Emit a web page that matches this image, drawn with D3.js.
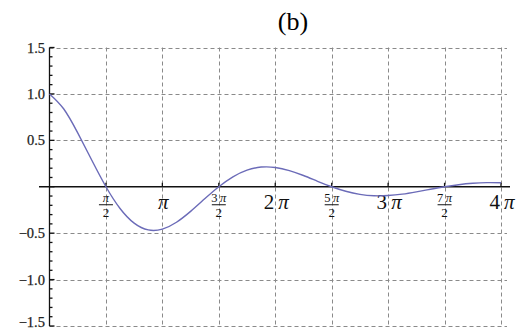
<!DOCTYPE html>
<html><head><meta charset="utf-8">
<script src="https://cdn.jsdelivr.net/npm/d3@7"></script>
<style>html,body{margin:0;padding:0;background:#fff;}svg{display:block;}</style>
</head><body>
<svg id="c" width="517" height="331"></svg>
<script>
// curve samples, x in units of π/8 (k = 0..32)
const sampleK = d3.range(0, 33);
const sampleY = [1.00, 0.84, 0.58, 0.285, 0.00, -0.234, -0.392, -0.465, -0.456, -0.382, -0.265, -0.13,
  0.00, 0.107, 0.179, 0.212, 0.208, 0.174, 0.121, 0.059, 0.00, -0.049, -0.082, -0.097, -0.095,
  -0.080, -0.055, -0.027, 0.00, 0.022, 0.037, 0.044, 0.043];
// x ticks in units of π/2
const xTickHalfPi = [1, 2, 3, 4, 5, 6, 7, 8];
const xTickCoef = ["", "", "3", "2", "5", "3", "7", "4"];
const xTickDen = ["2", "", "2", "", "2", "", "2", ""];
const yTicks = [-1.5, -1.0, -0.5, 0.5, 1.0, 1.5];
const yTickLabels = ["−1.5", "−1.0", "−0.5", "0.5", "1.0", "1.5"];
const title = "(b)";

const svg = d3.select("#c");
const x = d3.scaleLinear().domain([0, 4 * Math.PI]).range([49.5, 501]);
const y = d3.scaleLinear().domain([-1.5, 1.5]).range([326, 47.5]);
const serif = "'Liberation Serif','Times New Roman',serif";

// grid
const grid = svg.append("g").attr("stroke", "#8a8a8a").attr("stroke-width", 1)
  .attr("stroke-dasharray", "4,3").attr("fill", "none");
grid.selectAll("line.v").data(xTickHalfPi).join("line")
  .attr("x1", d => Math.round(x(d * Math.PI / 2)) + 0.5).attr("x2", d => Math.round(x(d * Math.PI / 2)) + 0.5)
  .attr("y1", y(1.5)).attr("y2", y(-1.5));
grid.selectAll("line.h").data(yTicks).join("line")
  .attr("x1", x(0)).attr("x2", 507)
  .attr("y1", d => Math.round(y(d)) + 0.5).attr("y2", d => Math.round(y(d)) + 0.5);

// y axis
const ax = svg.append("g").attr("stroke", "#111").attr("stroke-width", 1.3);
ax.append("line").attr("x1", x(0)).attr("x2", x(0)).attr("y1", y(1.5)).attr("y2", y(-1.5));
const minor = d3.range(-15, 16).map(i => i / 10);
ax.selectAll("line.t").data(minor).join("line")
  .attr("x1", x(0)).attr("x2", d => x(0) + (Math.abs(Math.round(d * 10)) % 5 === 0 ? 5 : 3))
  .attr("y1", d => y(d)).attr("y2", d => y(d));
svg.append("g").selectAll("text").data(yTicks).join("text")
  .attr("x", 45).attr("y", d => Math.min(y(d) + 5, 327)).attr("text-anchor", "end")
  .attr("font-family", serif).attr("font-size", 14.5).attr("fill", "#222")
  .attr("stroke", "#222").attr("stroke-width", 0.25)
  .text((d, i) => yTickLabels[i]);

// x axis
ax.append("line").attr("x1", 39).attr("x2", 510).attr("y1", y(0)).attr("y2", y(0));
ax.selectAll("line.xt").data(xTickHalfPi).join("line")
  .attr("x1", d => x(d * Math.PI / 2)).attr("x2", d => x(d * Math.PI / 2))
  .attr("y1", y(0)).attr("y2", y(0) - 4);

const xl = svg.append("g").attr("font-family", serif).attr("fill", "#111");
function piLabel(sel, coef, size) {
  sel.append("tspan").attr("font-size", size).text(coef ? coef + "\u2009" : "");
  sel.append("tspan").attr("font-size", size).attr("font-style", "italic").text("π");
}
xTickHalfPi.forEach((d, i) => {
  const cx = x(d * Math.PI / 2);
  if (xTickDen[i]) {
    const t = xl.append("text").attr("x", cx).attr("y", y(0) + 15).attr("text-anchor", "middle");
    piLabel(t, xTickCoef[i], 12.5);
    xl.append("line").attr("x1", cx - 7).attr("x2", cx + 7)
      .attr("y1", y(0) + 18).attr("y2", y(0) + 18).attr("stroke", "#111").attr("stroke-width", 1);
    xl.append("text").attr("x", cx).attr("y", y(0) + 30).attr("text-anchor", "middle")
      .attr("font-size", 13).text(xTickDen[i]);
  } else {
    const t = xl.append("text").attr("x", cx + 1).attr("y", y(0) + 22).attr("text-anchor", "middle");
    piLabel(t, xTickCoef[i], 21);
  }
});

// curve
const line = d3.line().x(d => x(d[0] * Math.PI / 8)).y(d => y(d[1])).curve(d3.curveNatural);
svg.append("path").datum(sampleK.map((k, i) => [k, sampleY[i]]))
  .attr("d", line).attr("fill", "none").attr("stroke", "#6b6bb8").attr("stroke-width", 1.4);

// title
svg.append("text").attr("x", 293).attr("y", 30).attr("text-anchor", "middle")
  .attr("font-family", serif).attr("font-size", 26).attr("fill", "#000").text(title);
</script>
</body></html>
